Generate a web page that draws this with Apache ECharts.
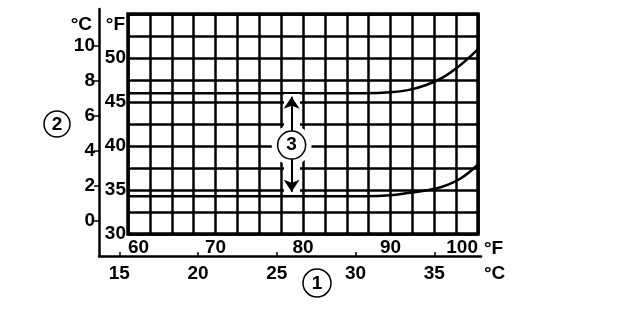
<!DOCTYPE html>
<html>
<head>
<meta charset="utf-8">
<script src="https://cdn.jsdelivr.net/npm/echarts@6/dist/echarts.min.js"></script>
<style>html,body{margin:0;padding:0;background:#fff}#c{width:624px;height:312px}</style>
</head>
<body>
<div id="c"></div>
<script>
// ---- data ----
const fTicksX = [60, 70, 80, 90, 100];        // bottom °F labels
const cTicksX = [15, 20, 25, 30, 35];         // bottom °C labels
const fTicksY = [30, 35, 40, 45, 50];         // left °F labels
const cTicksY = [0, 2, 4, 6, 8, 10];          // left °C labels
const curveF  = [60, 70, 80, 87, 90, 92, 94, 96, 98, 100];
const upperF  = [46.0, 46.0, 46.0, 46.0, 46.1, 46.35, 46.9, 47.8, 49.2, 51.0];
const lowerF  = [34.3, 34.3, 34.3, 34.3, 34.4, 34.65, 34.95, 35.4, 36.3, 37.9];
const arrowX = 78.7, circleY = 40.1, upTip = 45.6, downTip = 34.8;

// ---- layout ----
const G1 = {left: 128, right: 146, top: 14, bottom: 78};
const G2 = {left: 99, right: 143, top: 9, bottom: 56};
const W = 624;
const pxPerF = (W - G1.left - G1.right) / (100 - 60);
const toC = px => (((px - G1.left) / pxPerF + 60) - 32) / 1.8;
const cMinX = toC(G2.left), cMaxX = toC(W - G2.right);
// °C left scale: 0 °C at y=221, 17.5 px per °C
const cMinY = -(312 - G2.bottom - 221) / 17.5;
const cMaxY = (221 - G2.top) / 17.5;

const FONT = '"Liberation Sans", Arial, sans-serif';
const lab = {color: '#000', fontSize: 19, fontWeight: 'bold', fontFamily: FONT};

const chart = echarts.init(document.getElementById('c'));
chart.setOption({
  animation: false,
  backgroundColor: '#fff',
  grid: [
    Object.assign({show: true, borderColor: '#000', borderWidth: 3.5, containLabel: false, outerBoundsMode: 'none'}, G1),
    Object.assign({show: false, containLabel: false, outerBoundsMode: 'none'}, G2)
  ],
  xAxis: [
    {gridIndex: 0, type: 'value', min: 60, max: 100, interval: 2.5,
     axisLine: {show: false, onZero: false}, axisTick: {show: false},
     splitLine: {show: true, lineStyle: {color: '#000', width: 2.5}},
     axisLabel: Object.assign({margin: 4, alignMinLabel: 'left', alignMaxLabel: 'right',
       formatter: v => fTicksX.includes(v) ? String(v) : ''}, lab),
     name: '°F', nameLocation: 'end', nameGap: 2,
     nameTextStyle: Object.assign({align: 'left', verticalAlign: 'top', padding: [5, 0, 0, 0]}, lab)},
    {gridIndex: 1, type: 'value', min: cMinX, max: cMaxX,
     axisLine: {show: true, onZero: false, lineStyle: {color: '#000', width: 2.5}},
     axisTick: {show: true, inside: true, length: 4, customValues: cTicksX, lineStyle: {color: '#000', width: 1.5}},
     splitLine: {show: false},
     axisLabel: Object.assign({margin: 8, customValues: cTicksX, formatter: v => String(v)}, lab),
     name: '°C', nameLocation: 'end', nameGap: 3,
     nameTextStyle: Object.assign({align: 'left', verticalAlign: 'top', padding: [8, 0, 0, 0]}, lab)}
  ],
  yAxis: [
    {gridIndex: 0, type: 'value', min: 30, max: 55, interval: 2.5,
     axisLine: {show: false, onZero: false}, axisTick: {show: false},
     splitLine: {show: true, lineStyle: {color: '#000', width: 2.5}},
     axisLabel: Object.assign({margin: 2, formatter: v => fTicksY.includes(v) ? String(v) : ''}, lab),
     name: '°F', nameLocation: 'end', nameGap: -1,
     nameTextStyle: Object.assign({align: 'right', verticalAlign: 'top', padding: [0, 3, 0, 0]}, lab)},
    {gridIndex: 1, type: 'value', min: cMinY, max: cMaxY,
     axisLine: {show: true, onZero: false, lineStyle: {color: '#000', width: 2.5}},
     axisTick: {show: true, length: 5, customValues: cTicksY, lineStyle: {color: '#000', width: 1.5}},
     splitLine: {show: false},
     axisLabel: Object.assign({margin: 4, customValues: cTicksY, formatter: v => String(v)}, lab),
     name: '°C', nameLocation: 'end', nameGap: -6,
     nameTextStyle: Object.assign({align: 'right', verticalAlign: 'top', padding: [0, 7, 0, 0]}, lab)}
  ],
  series: [
    {type: 'line', xAxisIndex: 0, yAxisIndex: 0, data: curveF.map((x, i) => [x, upperF[i]]),
     smooth: 0.4, showSymbol: false, lineStyle: {color: '#000', width: 2.5}, z: 3},
    {type: 'line', xAxisIndex: 0, yAxisIndex: 0, data: curveF.map((x, i) => [x, lowerF[i]]),
     smooth: 0.4, showSymbol: false, lineStyle: {color: '#000', width: 2.5}, z: 3},
    {type: 'lines', coordinateSystem: 'cartesian2d', xAxisIndex: 0, yAxisIndex: 0, z: 4,
     lineStyle: {color: '#fff', width: 16, opacity: 1}, symbol: 'none',
     data: [{coords: [[arrowX, downTip - 0.3], [arrowX, upTip + 0.3]]}]},
    {type: 'scatter', xAxisIndex: 0, yAxisIndex: 0, z: 4, symbolSize: 40,
     itemStyle: {color: '#fff', opacity: 1}, data: [[arrowX, circleY]], silent: true},
    {type: 'lines', coordinateSystem: 'cartesian2d', xAxisIndex: 0, yAxisIndex: 0, z: 5,
     lineStyle: {color: '#000', width: 2, opacity: 1}, symbol: ['none', 'arrow'], symbolSize: 12,
     data: [{coords: [[arrowX, circleY], [arrowX, upTip]]}, {coords: [[arrowX, circleY], [arrowX, downTip]]}]},
    {type: 'scatter', xAxisIndex: 0, yAxisIndex: 0, z: 6, symbolSize: 28,
     itemStyle: {color: '#fff', borderColor: '#000', borderWidth: 1.5, opacity: 1},
     label: Object.assign({show: true, position: 'inside', formatter: '3'}, lab),
     data: [[arrowX, circleY]]}
  ],
  graphic: [
    {type: 'circle', shape: {cx: 57, cy: 124, r: 13}, style: {fill: '#fff', stroke: '#000', lineWidth: 1.5}},
    {type: 'text', x: 57, y: 125, style: {text: '2', fill: '#000', font: 'bold 19px ' + FONT, align: 'center', verticalAlign: 'middle'}},
    {type: 'circle', shape: {cx: 317, cy: 283, r: 14}, style: {fill: '#fff', stroke: '#000', lineWidth: 1.5}},
    {type: 'text', x: 317, y: 284, style: {text: '1', fill: '#000', font: 'bold 19px ' + FONT, align: 'center', verticalAlign: 'middle'}}
  ]
});
</script>
</body>
</html>
